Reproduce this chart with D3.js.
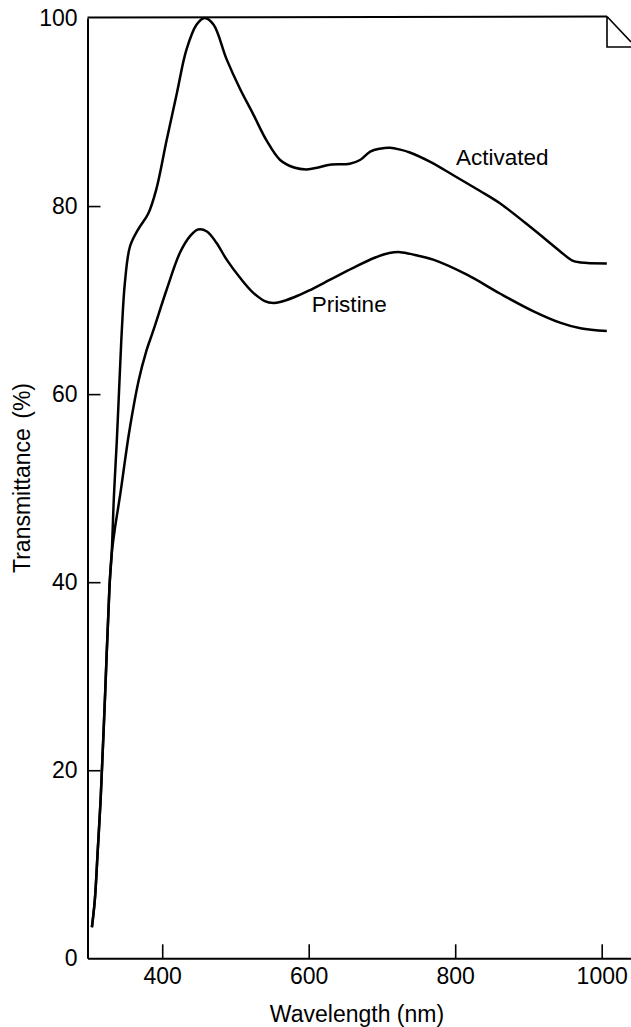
<!DOCTYPE html>
<html>
<head>
<meta charset="utf-8">
<script src="https://cdn.jsdelivr.net/npm/d3@7"></script>
<style>
  html, body { margin: 0; padding: 0; background: #fff; }
  svg text { font-family: "Liberation Sans", Arial, Helvetica, sans-serif; fill: #000; }
</style>
</head>
<body>
<div id="chart"></div>
<script>
// values
const activatedNm = [304, 308, 312, 316, 322, 328, 331, 334, 338, 342, 345, 349, 356, 367, 381, 392, 406, 420, 433, 447, 458, 470, 488, 506, 524, 543, 561, 580, 597, 613, 629, 656, 670, 684, 697, 711, 725, 738, 766, 797, 834, 861, 907, 943, 960, 971, 1007];
const activatedT  = [3.3, 6.2, 11.5, 17, 28, 39.5, 43, 49, 55, 62, 67, 71.8, 75.7, 77.5, 79.2, 81.8, 87, 92, 96.6, 99.3, 100, 99.3, 95.6, 92.5, 89.8, 86.9, 84.9, 84.1, 83.9, 84.1, 84.4, 84.5, 84.9, 85.8, 86.1, 86.2, 86.0, 85.7, 84.7, 83.3, 81.6, 80.3, 77.5, 75.2, 74.2, 74.0, 73.9];

const pristineNm = [304, 308, 312, 316, 322, 328, 331, 335, 339, 343, 355, 368, 378, 388, 406, 424, 438, 449, 461, 474, 488, 506, 524, 540, 552, 561, 580, 600, 630, 660, 690, 710, 725, 745, 770, 816, 861, 907, 943, 971, 1007];
const pristineT  = [3.3, 6.2, 11.5, 17, 28, 39.5, 43, 45.5, 47.5, 49.5, 56, 61.5, 64.5, 66.8, 71.1, 75, 76.8, 77.5, 77.3, 76.1, 74.3, 72.4, 70.8, 69.9, 69.7, 69.8, 70.3, 71.0, 72.2, 73.4, 74.5, 75.0, 75.1, 74.8, 74.3, 72.7, 70.7, 68.8, 67.6, 67.0, 66.7];

const xTicks = [400, 600, 800, 1000];
const yTicks = [0, 20, 40, 60, 80, 100];

const labelNames = ["Activated", "Pristine"];
const labelNm = [801, 604];
const labelT  = [84.4, 68.7];

const width = 631;
const height = 1027;

const x = d3.scaleLinear().domain([298, 1040]).range([87.5, 631]);
const y = d3.scaleLinear().domain([0, 100]).range([958.3, 18]);

const svg = d3.select("#chart").append("svg")
  .attr("width", width)
  .attr("height", height);

// axes
const xAxis = svg.append("g")
  .attr("transform", `translate(0,${y(0)})`)
  .call(d3.axisBottom(x).tickValues(xTicks).tickFormat(d3.format("d"))
    .tickSize(-14).tickSizeOuter(0).tickPadding(9));

const yAxis = svg.append("g")
  .attr("transform", `translate(${x(298)},0)`)
  .call(d3.axisLeft(y).tickValues(yTicks).tickFormat(d3.format("d"))
    .tickSize(-13).tickSizeOuter(0).tickPadding(10));

[xAxis, yAxis].forEach(g => {
  g.attr("font-family", null);
  g.select(".domain").attr("stroke", "#000").attr("stroke-width", 2);
  g.selectAll(".tick line").attr("stroke", "#000").attr("stroke-width", 1.6);
  g.selectAll(".tick text").attr("font-size", 23).attr("fill", "#000");
});
// no inward tick at 0 / 100 on the y axis
yAxis.selectAll(".tick").filter(d => d === 0 || d === 100).select("line").remove();

// top frame line and the folded corner mark
svg.append("line")
  .attr("x1", x(298)).attr("x2", 607)
  .attr("y1", y(100) - 0.5).attr("y2", y(100) - 1.5)
  .attr("stroke", "#000").attr("stroke-width", 2);

svg.append("path")
  .attr("d", "M607,16.5 L607,47 L631,47 M607,16.5 L631,42")
  .attr("fill", "none").attr("stroke", "#000").attr("stroke-width", 1.6);

// curves
const line = d3.line()
  .x(d => x(d[0]))
  .y(d => y(d[1]))
  .curve(d3.curveCatmullRom.alpha(0.5));

const series = [
  d3.zip(activatedNm, activatedT),
  d3.zip(pristineNm, pristineT)
];

svg.append("g")
  .selectAll("path")
  .data(series)
  .enter().append("path")
    .attr("d", line)
    .attr("fill", "none")
    .attr("stroke", "#000")
    .attr("stroke-width", 2.5)
    .attr("stroke-linejoin", "round");

// curve labels
svg.append("g")
  .selectAll("text")
  .data(labelNames)
  .enter().append("text")
    .attr("x", (d, i) => x(labelNm[i]))
    .attr("y", (d, i) => y(labelT[i]))
    .attr("font-size", 22.5)
    .text(d => d);

// axis titles
svg.append("text")
  .attr("x", 357)
  .attr("y", 1022)
  .attr("text-anchor", "middle")
  .attr("font-size", 23)
  .text("Wavelength (nm)");

svg.append("text")
  .attr("transform", "translate(30,478) rotate(-90)")
  .attr("text-anchor", "middle")
  .attr("font-size", 23)
  .attr("word-spacing", 3)
  .text("Transmittance (%)");
</script>
</body>
</html>
